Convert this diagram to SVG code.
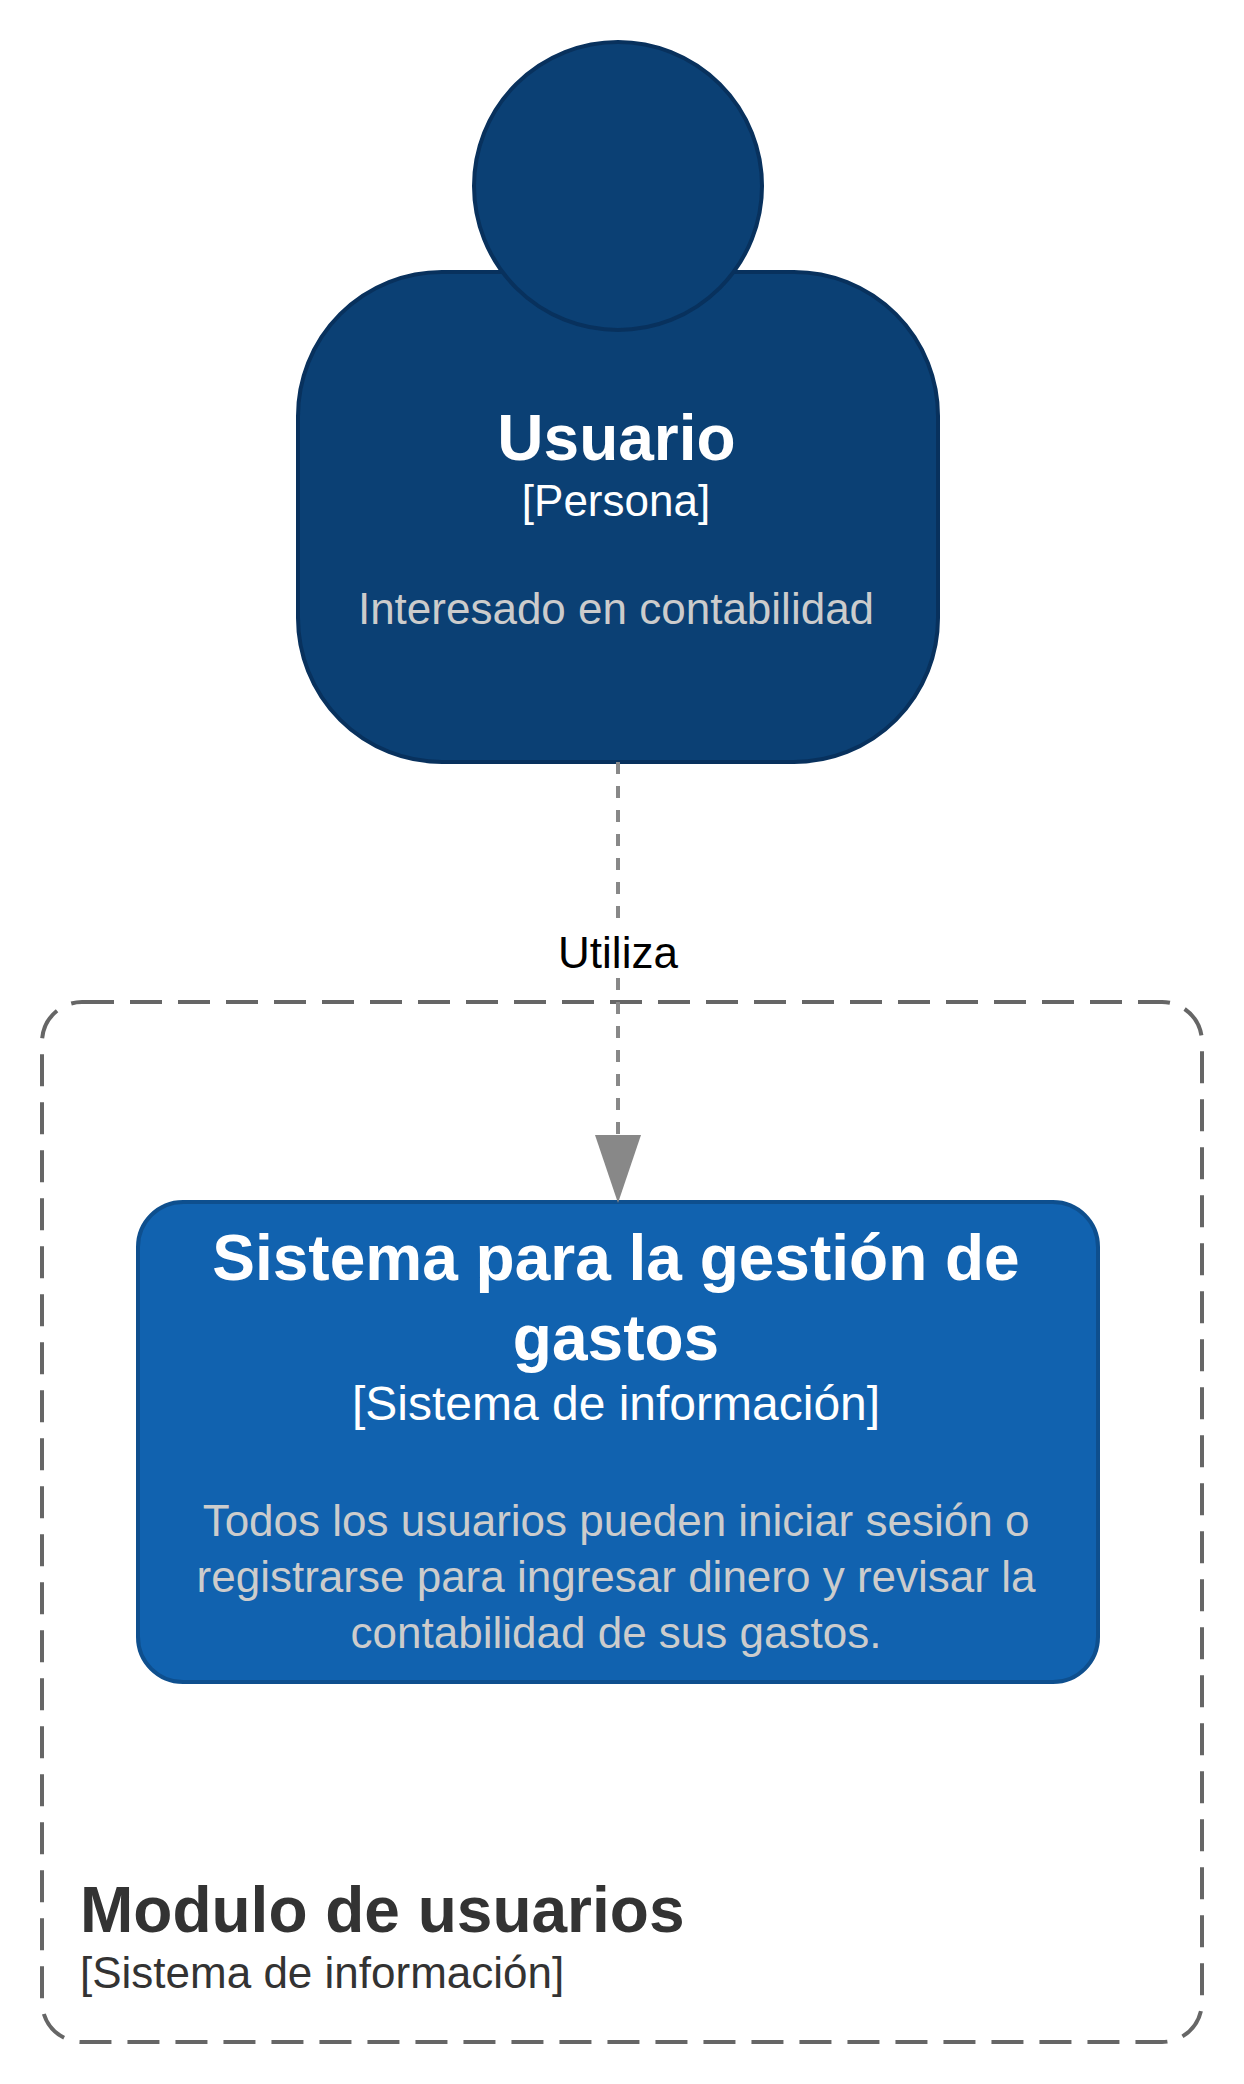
<svg xmlns="http://www.w3.org/2000/svg" width="1244" height="2084" viewBox="0 0 1244 2084">
  <style>
    text { font-family: "Liberation Sans", Arial, sans-serif; text-anchor: middle; }
    .title { font-size: 64px; font-weight: bold; fill: #ffffff; }
    .meta { font-size: 44px; fill: #ffffff; }
    .meta-large { font-size: 48px; fill: #ffffff; }
    .desc { font-size: 44px; fill: #cccccc; }
    .person { fill: #0b4074; stroke: #08315d; stroke-width: 4; }
    .system { fill: #1162af; stroke: #0e4f8e; stroke-width: 4; }
    .boundary { fill: none; stroke: #666666; stroke-width: 4; stroke-dasharray: 32 16; }
    .boundary-title { font-size: 64px; font-weight: bold; fill: #333333; text-anchor: start; }
    .boundary-meta { font-size: 44px; fill: #333333; text-anchor: start; }
    .link { fill: none; stroke: #888888; stroke-width: 4; stroke-dasharray: 12 12; }
    .link-label { font-size: 44px; fill: #000000; }
  </style>
  <defs>
    <marker id="arrow" markerUnits="userSpaceOnUse" markerWidth="70" markerHeight="46" refX="0" refY="23" orient="auto">
      <polygon points="0,0 68,23 0,46" fill="#888888"/>
    </marker>
  </defs>
  <rect width="1244" height="2084" fill="#ffffff"/>
  <g id="modulo-de-usuarios">
    <rect class="boundary" x="42" y="1002" width="1160" height="1040" rx="40" ry="40"/>
    <text class="boundary-title" x="80" y="1932">Modulo de usuarios</text>
    <text class="boundary-meta" x="80" y="1988">[Sistema de información]</text>
  </g>
  <g id="usuario">
    <rect class="person" x="298" y="272" width="640" height="490" rx="144" ry="144"/>
    <circle class="person" cx="618" cy="186" r="144"/>
    <text class="title" x="616.5" y="460">Usuario</text>
    <text class="meta" x="616" y="516">[Persona]</text>
    <text class="desc" x="616" y="624">Interesado en contabilidad</text>
  </g>
  <g id="sistema-gestion-gastos">
    <rect class="system" x="138" y="1202" width="960" height="480" rx="45" ry="45"/>
    <text class="title" x="616" y="1280">Sistema para la gestión de</text>
    <text class="title" x="616" y="1360">gastos</text>
    <text class="meta-large" x="616" y="1420">[Sistema de información]</text>
    <text class="desc" x="616" y="1536">Todos los usuarios pueden iniciar sesión o</text>
    <text class="desc" x="616" y="1592">registrarse para ingresar dinero y revisar la</text>
    <text class="desc" x="616" y="1648">contabilidad de sus gastos.</text>
  </g>
  <g id="connectors">
    <path class="link" d="M618 762 V1135" marker-end="url(#arrow)"/>
    <rect x="556" y="924" width="124" height="52" fill="#ffffff"/>
    <text class="link-label" x="618" y="968">Utiliza</text>
  </g>
</svg>
